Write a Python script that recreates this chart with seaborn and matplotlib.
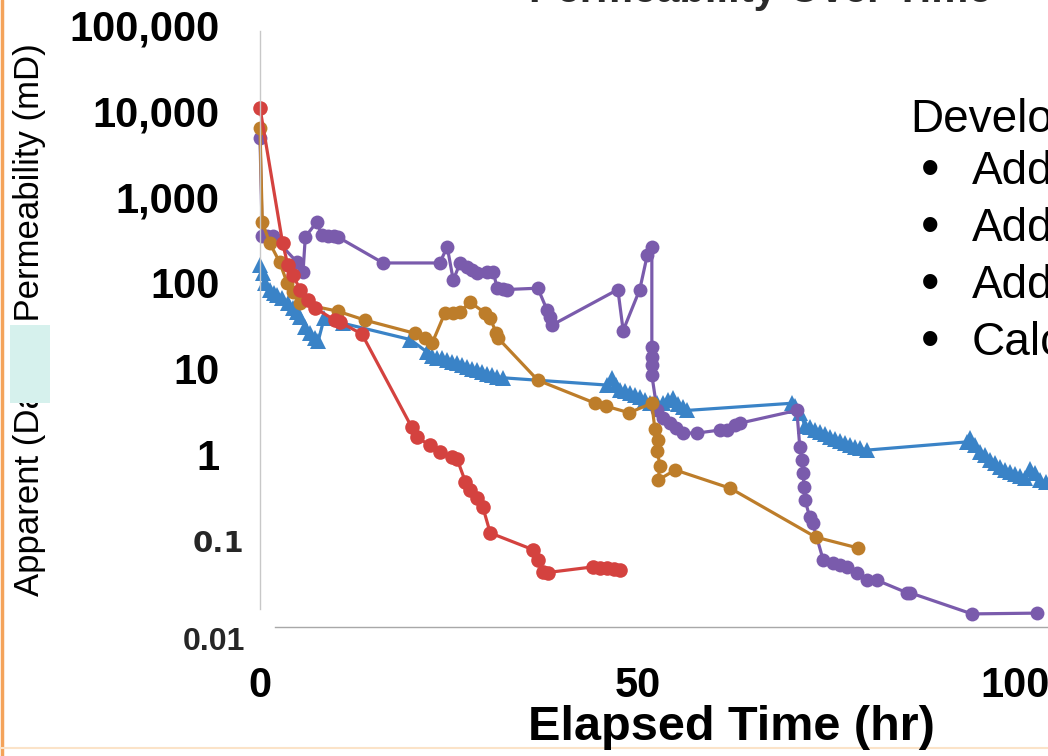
import matplotlib
matplotlib.use("Agg")
import matplotlib.pyplot as plt
import pandas as pd
import seaborn as sns
from matplotlib.patches import Rectangle
from matplotlib.lines import Line2D
from matplotlib.ticker import NullLocator

# ---------------- data ----------------
red_t = [0, 3.0, 3.7, 4.4, 5.3, 6.4, 7.3, 9.9, 10.6, 13.5, 20.1, 20.8, 22.5, 23.8,
         25.4, 26.1, 27.2, 27.8, 28.7, 29.5, 30.5, 36.2, 36.8, 37.5, 38.1, 44.1,
         45.0, 46.0, 46.9, 47.7]
red_k = [10800, 290, 160, 124, 83, 63, 51, 37, 35, 25.5, 2.1, 1.6, 1.3, 1.08,
         0.95, 0.9, 0.49, 0.39, 0.32, 0.25, 0.124, 0.079, 0.06, 0.044, 0.043, 0.050,
         0.049, 0.049, 0.047, 0.046]

orange_t = [0, 0.3, 1.3, 2.6, 3.6, 4.4, 5.3, 10.3, 13.9, 20.5, 21.9, 22.8, 24.5,
            25.6, 26.5, 27.8, 29.8, 30.5, 31.3, 31.5, 36.8, 44.4, 45.8, 48.9, 51.9,
            52.3, 52.7, 52.6, 53.0, 52.7, 55.0, 62.3, 73.6, 79.2]
orange_k = [6300, 510, 290, 175, 100, 79, 58, 47, 37, 26, 23, 20, 45,
            45, 46, 60, 45, 39, 26, 23, 7.4, 4.0, 3.7, 3.1, 4.0,
            2.0, 1.5, 1.1, 0.75, 0.51, 0.67, 0.41, 0.111, 0.083]

purple_t = [0, 0.3, 0.9, 1.7, 4.9, 5.7, 6.0, 7.5, 8.2, 9.0, 9.8, 10.3, 16.3, 23.8,
            24.8, 25.6, 26.5, 27.4, 28.1, 28.7, 30.1, 30.9, 31.4, 32.2, 32.7, 36.8,
            38.0, 38.4, 38.7, 47.4, 48.1, 50.3, 51.3, 51.9, 51.9, 51.9, 51.9, 51.9,
            52.6, 53.4, 54.3, 55.1, 56.0, 57.9, 60.9, 61.9, 62.9, 63.6, 71.1, 71.5,
            71.8, 71.9, 72.1, 72.2, 72.8, 73.2, 74.6, 75.9, 76.8, 77.7, 79.1, 80.4,
            81.7, 85.7, 86.1, 94.3, 102.9]
purple_k = [4900, 350, 350, 350, 175, 134, 343, 510, 360, 350, 350, 343, 171, 171,
            262, 108, 171, 154, 142, 131, 136, 136, 87, 85, 84, 87,
            49, 40, 32.5, 84, 28, 84, 212, 262, 18, 13.8, 11.1, 8.5,
            3.3, 2.7, 2.35, 2.06, 1.8, 1.8, 1.95, 1.95, 2.24, 2.35, 3.3, 1.24,
            0.87, 0.62, 0.42, 0.30, 0.19, 0.162, 0.060, 0.055, 0.052, 0.050, 0.042, 0.035,
            0.035, 0.025, 0.025, 0.0142, 0.0145]

blue_t = [0, 0.4, 0.7, 1.3, 1.9, 2.3, 2.9, 3.7, 4.4, 4.9, 5.3, 6.0, 6.6, 7.3, 7.7,
          8.5, 11.0, 19.9, 22.1, 22.8, 23.4, 24.1, 24.8, 25.4, 26.1, 26.8, 27.4,
          28.1, 28.7, 29.4, 30.1, 30.7, 31.4, 32.2, 46.0, 46.6, 47.2, 47.7, 48.3,
          49.0, 49.7, 50.3, 51.0, 51.7, 52.6, 53.4, 54.0, 54.7, 55.4, 56.0, 56.6,
          70.5, 70.9, 71.5, 72.2, 72.8, 73.5, 74.2, 74.8, 75.5, 76.2, 76.8, 77.5,
          78.1, 78.8, 79.5, 80.4, 93.6, 94.0, 94.7, 95.4, 96.0, 96.7, 97.4, 98.0,
          98.7, 99.3, 100.0, 100.7, 101.3, 102.0, 102.6, 103.3, 104.1]
blue_k = [162, 131, 100, 83, 77, 72, 67, 59, 51, 46, 40, 31, 26, 23, 21,
          39, 34, 22, 15.8, 14.2, 13.4, 13.4, 12.7, 12.1, 11.7, 11.1, 10.5,
          10.0, 9.7, 9.2, 8.7, 8.5, 8.1, 7.9, 6.5, 7.9, 6.5, 5.7, 5.6,
          5.3, 5.0, 4.7, 4.4, 4.0, 4.0, 4.0, 4.4, 4.6, 3.9, 3.6, 3.3,
          4.0, 3.7, 3.1, 2.2, 2.1, 1.95, 1.85, 1.75, 1.62, 1.55, 1.46, 1.38,
          1.3, 1.24, 1.2, 1.14, 1.42, 1.58, 1.3, 1.08, 1.0, 0.87, 0.81, 0.72,
          0.67, 0.64, 0.6, 0.57, 0.54, 0.69, 0.62, 0.51, 0.48]

y_tick_values = [0.01, 0.1, 1, 10, 100, 1000, 10000, 100000]
y_tick_labels = ["0.01", "0.1", "1", "10", "100", "1,000", "10,000", "100,000"]
x_tick_values = [0, 50, 100]
x_tick_labels = ["0", "50", "100"]

title_text = "Permeability Over Time"
x_label = "Elapsed Time (hr)"
y_label = "Apparent (Darcy) Permeability (mD)"
side_head = "Developed"
side_bullets = ["Added", "Added", "Added", "Calculated"]

# ---------------- styling ----------------
sns.set_theme(style="white")
plt.rcParams["font.family"] = ["Liberation Sans", "DejaVu Sans"]

fig = plt.figure(figsize=(10.48, 7.56), dpi=100)
fig.patch.set_facecolor("white")

W, H = 1048, 756
px_per_hr = 7.55
x_max = 110
ax = fig.add_axes([260 / W, 1 - 627 / H, x_max * px_per_hr / W, (627 - 25) / H])
ax.set_facecolor("none")

series = [
    (blue_t, blue_k, "#3A83C7", "^", 11),
    (purple_t, purple_k, "#7A5BAC", "o", 10),
    (orange_t, orange_k, "#BD7D2A", "o", 10),
    (red_t, red_k, "#D4423F", "o", 10.5),
]
for t, k, c, m, ms in series:
    df = pd.DataFrame({"t": t, "k": k})
    sns.lineplot(data=df, x="t", y="k", sort=False, estimator=None, color=c,
                 marker=m, markersize=ms, markeredgewidth=0, linewidth=2.3,
                 ax=ax, legend=False)
for ln in ax.lines:
    ln.set_clip_on(False)

ax.set_yscale("log")
ax.set_ylim(0.01, 1e5)
ax.set_xlim(0, x_max)
ax.yaxis.set_minor_locator(NullLocator())
ax.set_yticks(y_tick_values)
ax.set_yticklabels(["" if v < 1 else l for v, l in zip(y_tick_values, y_tick_labels)])
ax.set_xticks(x_tick_values)
ax.set_xticklabels(x_tick_labels)
ax.tick_params(axis="y", length=0, pad=29, labelsize=30)
ax.tick_params(axis="x", length=0, pad=28, labelsize=30)
for lab in ax.get_yticklabels() + ax.get_xticklabels():
    lab.set_fontweight("bold")
    lab.set_color("black")
ax.set_xlabel("")
ax.set_ylabel("")

# small labels for the two lowest decades
ytrans = ax.get_yaxis_transform()
for v, l in zip(y_tick_values, y_tick_labels):
    if v == 0.1:
        ax.annotate(l, xy=(0, v), xycoords=ytrans, xytext=(-11, -2),
                    textcoords="offset points", ha="right", va="center",
                    fontsize=21, fontweight="bold", family=["DejaVu Sans"])
    elif v == 0.01:
        ax.annotate(l, xy=(0, v), xycoords=ytrans, xytext=(-11, -11),
                    textcoords="offset points", ha="right", va="center",
                    fontsize=23, fontweight="bold",
                    family=["Liberation Sans Narrow", "Liberation Sans"])

for s in ["top", "right"]:
    ax.spines[s].set_visible(False)
ax.spines["left"].set_color("#C8C8C8")
ax.spines["left"].set_linewidth(1.0)
ax.spines["left"].set_bounds(0.016, 8.5e4)
ax.spines["bottom"].set_color("#A8A8A8")
ax.spines["bottom"].set_linewidth(1.0)
ax.spines["bottom"].set_bounds(2, x_max)

# axis titles
fig.text(731 / W, 1 - 727 / H, x_label, ha="center", va="center",
         fontsize=35, fontweight="bold", color="black")
fig.text(30 / W, 1 - 320 / H, y_label, ha="center", va="center", rotation=90,
         fontsize=25, color="black")
fig.patches.append(Rectangle((10 / W, 1 - 403 / H), 40 / W, 78 / H,
                             transform=fig.transFigure, facecolor="#D6F1ED",
                             edgecolor="none", zorder=5))

# title cut off at the top of the slide crop
fig.text(760 / W, 1 - 2 / H, title_text, ha="center", va="baseline",
         fontsize=30, fontweight="bold", color="#2a2a2a")

# slide text on the right
fig.text(910 / W, 1 - 120 / H, side_head, ha="left", va="center", fontsize=33,
         color="black")
for i, b in enumerate(side_bullets):
    yy = 1 - (172 + i * 57) / H
    fig.text(930 / W, yy, "\u2022", ha="center", va="center", fontsize=38, color="black")
    fig.text(972 / W, yy, b, ha="left", va="center", fontsize=33, color="black")

# slide border remnants
fig.lines.append(Line2D([1.5 / W, 1.5 / W], [0, 1], transform=fig.transFigure,
                        color="#F4A35A", linewidth=2.5))
fig.lines.append(Line2D([0, 1], [1 - 748 / H, 1 - 748 / H], transform=fig.transFigure,
                        color="#FBE3C8", linewidth=1.5))

fig.savefig("out.png", dpi=100)
